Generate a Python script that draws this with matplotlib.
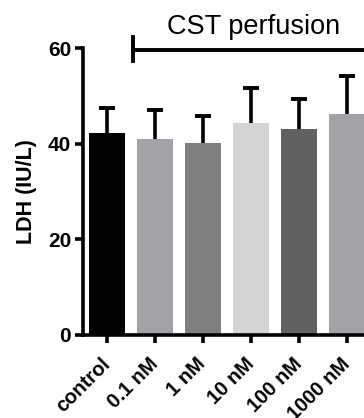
import numpy as np
from matplotlib import pyplot as plt

plt.rcParams['font.family'] = ['Liberation Sans', 'DejaVu Sans']

# data
groups = ['control', '0.1 nM', '1 nM', '10 nM', '100 nM', '1000 nM']
ldh_mean = [42.3, 41.0, 40.1, 44.3, 43.1, 46.3]
ldh_sd = [5.2, 6.0, 5.7, 7.3, 6.2, 7.9]
bar_colors = ['#000000', '#a2a2a7', '#808080', '#d4d4d4', '#616161', '#a2a2a7']

fig = plt.figure(figsize=(3.64, 4.18), dpi=100)
ax = fig.add_axes([83 / 364, 83 / 418, 307 / 364, 287 / 418])

x = np.arange(len(groups))
top = np.array(ldh_mean) + np.array(ldh_sd)
# upper-only error bars: stem + cap
ax.vlines(x, ldh_mean, top, color='black', lw=2.6, zorder=1)
ax.plot(x, top, '_', color='black', ms=12, mew=2.8, zorder=1)
ax.bar(x, ldh_mean, width=0.75, color=bar_colors, zorder=2)

ax.set_xlim(-0.5, 5.9)
ax.set_ylim(0, 60)
ax.set_yticks([0, 20, 40, 60])
ax.set_xticks(x)
ax.set_xticklabels(groups, rotation=45, ha='right', va='center',
                   rotation_mode='anchor', fontsize=14.5, fontweight='bold')
for lab in ax.get_yticklabels():
    lab.set_fontweight('bold')
    lab.set_fontsize(15)

for s in ['top', 'right']:
    ax.spines[s].set_visible(False)
for s in ['left', 'bottom']:
    ax.spines[s].set_linewidth(2.6)
ax.tick_params(width=2.6, length=5.5)
ax.tick_params(axis='y', pad=3)
ax.tick_params(axis='x', pad=13)

ax.set_ylabel('LDH (IU/L)', fontsize=15.5, fontweight='bold', labelpad=8)

# perfusion bracket
ax.plot([0.54, 7], [59.6, 59.6], color='black', lw=2.8, clip_on=False)
ax.plot([0.54, 0.54], [57.2, 62.2], color='black', lw=2.8, clip_on=False)
ax.text(254, 418 - 27, 'CST perfusion', transform=None, fontsize=19.5,
        ha='center', va='center')

plt.savefig('out.png', dpi=100)
